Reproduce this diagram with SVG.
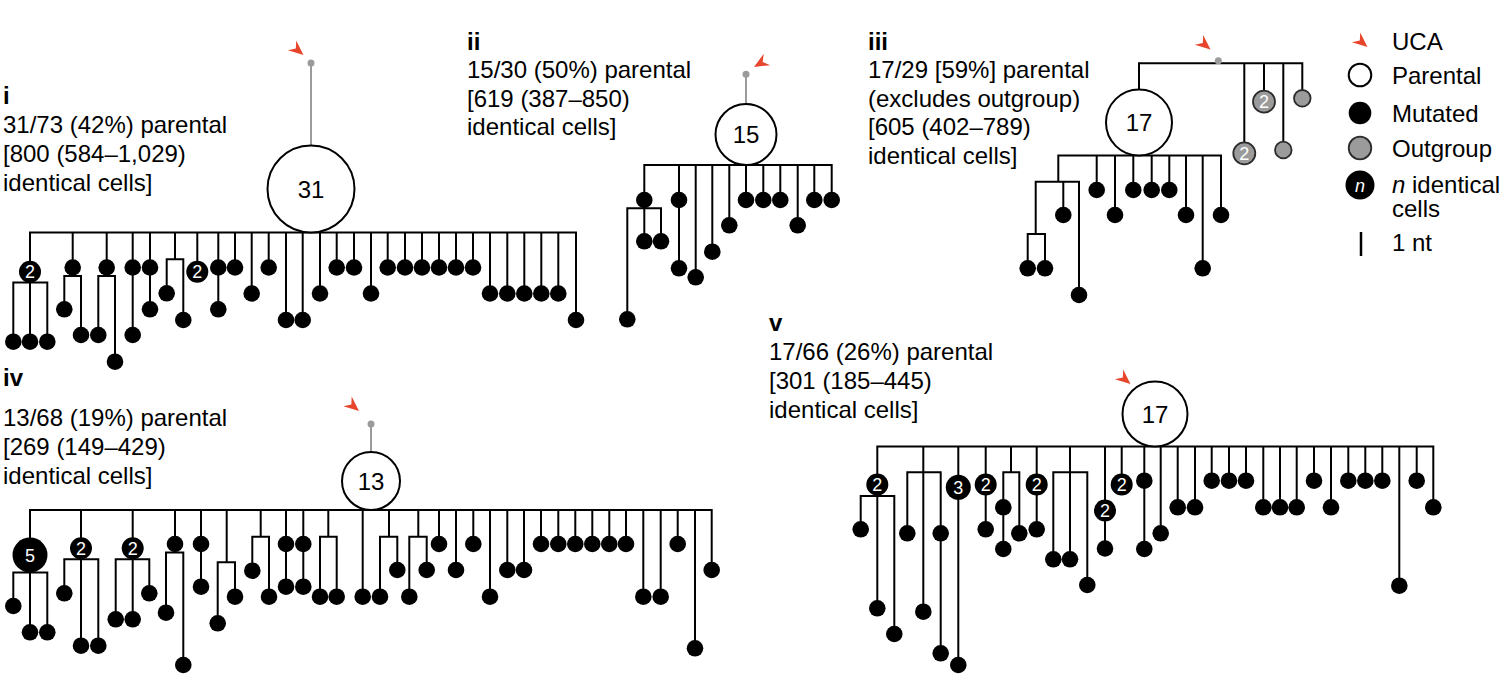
<svg xmlns="http://www.w3.org/2000/svg" width="1504" height="694" viewBox="0 0 1504 694">
<defs>
<style>
.e{fill:none;stroke:#000;stroke-width:2;stroke-linecap:square;stroke-linejoin:miter}
.g{fill:none;stroke:#9b9b9b;stroke-width:2}
.m{fill:#000}
.p{fill:#fff;stroke:#000;stroke-width:2}
.o{fill:#9b9b9b;stroke:#2b2b2b;stroke-width:1.8}
.gd{fill:#9b9b9b}
.u{fill:#e8462c}
.t{font-family:"Liberation Sans",Arial,Helvetica,sans-serif;font-size:24px;fill:#000}
.b{font-weight:bold}
.n{font-family:"Liberation Sans",Arial,Helvetica,sans-serif;font-size:24px;text-anchor:middle;fill:#000}
.w{font-family:"Liberation Sans",Arial,Helvetica,sans-serif;font-size:18px;text-anchor:middle;fill:#fff}
</style>
<path id="uca" d="M0,0 L-15,-6.5 L-10,0 L-15,6.5 Z"/>
</defs>
<rect width="1504" height="694" fill="#fff"/>

<!-- labels -->
<g id="labels">
<text class="t b" x="3" y="104">i</text>
<text class="t" x="3" y="133">31/73 (42%) parental</text>
<text class="t" x="3" y="162">[800 (584–1,029)</text>
<text class="t" x="3" y="191">identical cells]</text>

<text class="t b" x="467" y="49.5">ii</text>
<text class="t" x="467" y="78">15/30 (50%) parental</text>
<text class="t" x="467" y="106.5">[619 (387–850)</text>
<text class="t" x="467" y="135">identical cells]</text>

<text class="t b" x="868" y="49.5">iii</text>
<text class="t" x="868" y="78">17/29 [59%] parental</text>
<text class="t" x="868" y="106.5">(excludes outgroup)</text>
<text class="t" x="868" y="135">[605 (402–789)</text>
<text class="t" x="868" y="163.5">identical cells]</text>

<text class="t b" x="3" y="386">iv</text>
<text class="t" x="3" y="425.5">13/68 (19%) parental</text>
<text class="t" x="3" y="455">[269 (149–429)</text>
<text class="t" x="3" y="484">identical cells]</text>

<text class="t b" x="769" y="331">v</text>
<text class="t" x="769" y="360">17/66 (26%) parental</text>
<text class="t" x="769" y="389">[301 (185–445)</text>
<text class="t" x="769" y="418">identical cells]</text>
</g>

<!-- connectors -->
<g id="connectors">
<g id="edges-i">
<path class="g" d="M311,63 V145.5"/>
<path class="e" d="M30,232.5 H576
M30,232.5 V341.7 M13.3,341.7 V282.5 H47.3 V341.7
M72.7,232.5 V276 M64.3,309.3 V276 H81 V335
M106.7,232.5 V276 M98.3,335 V276 H115 V361.7
M132.7,232.5 V335
M150,232.5 V309.3
M175,232.5 V259.3 M166.7,293.3 V259.3 H183.3 V320
M197.3,232.5 V271.7
M218.3,232.5 V309.3
M235,232.5 V267.5
M251.7,232.5 V293.5
M268.7,232.5 V267.5
M286,232.5 V320
M302.7,232.5 V320
M320,232.5 V293.5
M336.7,232.5 V267.5
M354,232.5 V267.5
M371,232.5 V293.5
M387.7,232.5 V267.5
M405,232.5 V267.5
M422,232.5 V267.5
M439,232.5 V267.5
M456,232.5 V267.5
M473,232.5 V267.5
M490,232.5 V293.5
M507.3,232.5 V293.5
M524.3,232.5 V293.5
M541.3,232.5 V293.5
M558.3,232.5 V293.5
M576,232.5 V320"/>
</g>
<g id="edges-ii">
<path class="g" d="M746,74.3 V104"/>
<path class="e" d="M644.3,165 H831.7
M644.3,165 V241.3 M627.3,319.3 V208.3 H661 V241.3
M679,165 V268.3
M695.7,165 V277.3
M712.3,165 V251.7
M729.3,165 V225.3
M746,165 V200
M763.3,165 V200
M780.3,165 V200
M797.7,165 V225.3
M814.3,165 V200
M831.7,165 V200"/>
</g>
<g id="edges-iii">
<path class="e" d="M1139,89.5 V63.3 H1302.3 V98.3
M1244.3,63.3 V153.3
M1264,63.3 V101.7
M1283.3,63.3 V150
M1058.3,155.5 H1221
M1058.3,155.5 V181.7 M1035.7,234 V181.7 H1079 V295
M1063.3,181.7 V215
M1027.7,268.3 V234 H1045 V268.3
M1096.7,155.5 V190
M1115,155.5 V215
M1133.3,155.5 V190
M1151.7,155.5 V190
M1169.3,155.5 V190
M1186,155.5 V215
M1202.7,155.5 V268.3
M1221,155.5 V215"/>
</g>
<g id="edges-iv">
<path class="g" d="M371,424 V452"/>
<path class="e" d="M30,510 H711.7
M30,510 V632.3 M13.3,606 V572.5 H47.3 V632.3
M81,510 V645.7 M64.3,593.3 V559.3 H98.3 V645.7
M132.7,510 V619.3 M115.7,619.3 V559.3 H149.3 V593.3
M175,510 V552.5 M166,612.7 V552.5 H183.3 V665
M201,510 V586.7
M226.7,510 V562.3 M217.7,623.3 V562.3 H235 V596.7
M260.7,510 V536.7 M252.3,570.7 V536.7 H269 V596.7
M286,510 V586.7
M303.3,510 V586.7
M328.3,510 V536.7 M320,596.7 V536.7 H336.7 V596.7
M362.7,510 V596.7
M389,510 V536.7 M380,596.7 V536.7 H397.3 V570
M418.3,510 V536.7 M409.3,596.7 V536.7 H426.7 V570
M439,510 V544
M456,510 V570
M473.3,510 V544
M490,510 V596.7
M507.3,510 V570
M524,510 V570
M541,510 V544
M558.3,510 V544
M575.3,510 V544
M592.3,510 V544
M609.3,510 V544
M626,510 V544
M643.3,510 V596.7
M660.7,510 V596.7
M677.7,510 V544
M695,510 V648.3
M711.7,510 V570"/>
</g>
<g id="edges-v">
<path class="e" d="M877.3,446.5 H1433.3
M877.3,446.5 V608.3 M860.7,529.3 V496 H894.3 V634
M923.3,446.5 V611.7 M907.3,533.3 V472.3 H940.7 V653.3
M958.3,446.5 V665
M985.7,446.5 V529.3
M1011,446.5 V472.3 M1003.3,549 V472.3 H1019.3 V533.3
M1036.7,446.5 V529.3
M1070,446.5 V559.3 M1053.3,559.3 V472.3 H1087.3 V585
M1105,446.5 V548.5
M1121.7,446.5 V484.5
M1144.3,446.5 V549
M1160.7,446.5 V533.3
M1177.7,446.5 V507.3
M1195,446.5 V507.3
M1211.7,446.5 V480.7
M1229,446.5 V480.7
M1246,446.5 V480.7
M1263.3,446.5 V507.3
M1280,446.5 V507.3
M1296.7,446.5 V507.3
M1314,446.5 V480.7
M1331,446.5 V507.3
M1348.3,446.5 V480.7
M1365.3,446.5 V480.7
M1382.3,446.5 V480.7
M1399.3,446.5 V585.7
M1416.7,446.5 V480.7
M1433.3,446.5 V507.3"/>
</g>
</g>

<!-- tree i nodes -->
<g id="tree-i">
<g id="i-uca"><use href="#uca" class="u" transform="translate(303.5,55) rotate(40)"/><circle class="gd" cx="311" cy="63" r="3.5"/></g>
<g id="i-parental"><circle class="p" cx="311" cy="189" r="43.5"/><text class="n" x="311" y="197.6">31</text></g>
<g id="i-1"><circle class="m" cx="30" cy="271.7" r="11"/><text class="w" x="30" y="278.1">2</text></g>
<g id="i-1a"><circle class="m" cx="13.3" cy="341.7" r="8.3"/></g>
<g id="i-1b"><circle class="m" cx="30" cy="341.7" r="8.3"/></g>
<g id="i-1c"><circle class="m" cx="47.3" cy="341.7" r="8.3"/></g>
<g id="i-2"><circle class="m" cx="72.7" cy="267.5" r="8.3"/></g>
<g id="i-2a"><circle class="m" cx="64.3" cy="309.3" r="8.3"/></g>
<g id="i-2b"><circle class="m" cx="81" cy="335" r="8.3"/></g>
<g id="i-3"><circle class="m" cx="106.7" cy="267.5" r="8.3"/></g>
<g id="i-3a"><circle class="m" cx="98.3" cy="335" r="8.3"/></g>
<g id="i-3b"><circle class="m" cx="115" cy="361.7" r="8.3"/></g>
<g id="i-4"><circle class="m" cx="132.7" cy="267.5" r="8.3"/></g>
<g id="i-4a"><circle class="m" cx="132.7" cy="335" r="8.3"/></g>
<g id="i-5"><circle class="m" cx="150" cy="267.5" r="8.3"/></g>
<g id="i-5a"><circle class="m" cx="150" cy="309.3" r="8.3"/></g>
<g id="i-6a"><circle class="m" cx="166.7" cy="293.3" r="8.3"/></g>
<g id="i-6b"><circle class="m" cx="183.3" cy="320" r="8.3"/></g>
<g id="i-7"><circle class="m" cx="197.3" cy="271.7" r="11"/><text class="w" x="197.3" y="278.1">2</text></g>
<g id="i-8"><circle class="m" cx="218.3" cy="267.5" r="8.3"/></g>
<g id="i-8a"><circle class="m" cx="218.3" cy="309.3" r="8.3"/></g>
<g id="i-9"><circle class="m" cx="235" cy="267.5" r="8.3"/></g>
<g id="i-10"><circle class="m" cx="251.7" cy="293.5" r="8.3"/></g>
<g id="i-11"><circle class="m" cx="268.7" cy="267.5" r="8.3"/></g>
<g id="i-12"><circle class="m" cx="286" cy="320" r="8.3"/></g>
<g id="i-13"><circle class="m" cx="302.7" cy="320" r="8.3"/></g>
<g id="i-14"><circle class="m" cx="320" cy="293.5" r="8.3"/></g>
<g id="i-15"><circle class="m" cx="336.7" cy="267.5" r="8.3"/></g>
<g id="i-16"><circle class="m" cx="354" cy="267.5" r="8.3"/></g>
<g id="i-17"><circle class="m" cx="371" cy="293.5" r="8.3"/></g>
<g id="i-18"><circle class="m" cx="387.7" cy="267.5" r="8.3"/></g>
<g id="i-19"><circle class="m" cx="405" cy="267.5" r="8.3"/></g>
<g id="i-20"><circle class="m" cx="422" cy="267.5" r="8.3"/></g>
<g id="i-21"><circle class="m" cx="439" cy="267.5" r="8.3"/></g>
<g id="i-22"><circle class="m" cx="456" cy="267.5" r="8.3"/></g>
<g id="i-23"><circle class="m" cx="473" cy="267.5" r="8.3"/></g>
<g id="i-24"><circle class="m" cx="490" cy="293.5" r="8.3"/></g>
<g id="i-25"><circle class="m" cx="507.3" cy="293.5" r="8.3"/></g>
<g id="i-26"><circle class="m" cx="524.3" cy="293.5" r="8.3"/></g>
<g id="i-27"><circle class="m" cx="541.3" cy="293.5" r="8.3"/></g>
<g id="i-28"><circle class="m" cx="558.3" cy="293.5" r="8.3"/></g>
<g id="i-29"><circle class="m" cx="576" cy="320" r="8.3"/></g>
</g>

<!-- tree ii nodes -->
<g id="tree-ii">
<g id="ii-uca"><use href="#uca" class="u" transform="translate(754,67) rotate(150)"/><circle class="gd" cx="746" cy="74.3" r="3.5"/></g>
<g id="ii-parental"><circle class="p" cx="746" cy="134.5" r="30.5"/><text class="n" x="746" y="143.1">15</text></g>
<g id="ii-1"><circle class="m" cx="644.3" cy="200" r="8.3"/></g>
<g id="ii-1a"><circle class="m" cx="627.3" cy="319.3" r="8.3"/></g>
<g id="ii-1b"><circle class="m" cx="644.3" cy="241.3" r="8.3"/></g>
<g id="ii-1c"><circle class="m" cx="661" cy="241.3" r="8.3"/></g>
<g id="ii-2"><circle class="m" cx="679" cy="200" r="8.3"/></g>
<g id="ii-2a"><circle class="m" cx="679" cy="268.3" r="8.3"/></g>
<g id="ii-3"><circle class="m" cx="695.7" cy="277.3" r="8.3"/></g>
<g id="ii-4"><circle class="m" cx="712.3" cy="251.7" r="8.3"/></g>
<g id="ii-5"><circle class="m" cx="729.3" cy="225.3" r="8.3"/></g>
<g id="ii-6"><circle class="m" cx="746" cy="200" r="8.3"/></g>
<g id="ii-7"><circle class="m" cx="763.3" cy="200" r="8.3"/></g>
<g id="ii-8"><circle class="m" cx="780.3" cy="200" r="8.3"/></g>
<g id="ii-9"><circle class="m" cx="797.7" cy="225.3" r="8.3"/></g>
<g id="ii-10"><circle class="m" cx="814.3" cy="200" r="8.3"/></g>
<g id="ii-11"><circle class="m" cx="831.7" cy="200" r="8.3"/></g>
</g>

<!-- tree iii nodes -->
<g id="tree-iii">
<g id="iii-uca"><use href="#uca" class="u" transform="translate(1210.5,49.5) rotate(40)"/><circle class="gd" cx="1218.3" cy="60.7" r="3.5"/></g>
<g id="iii-parental"><circle class="p" cx="1139" cy="122.5" r="33"/><text class="n" x="1139" y="131.1">17</text></g>
<g id="iii-o1"><circle class="o" cx="1244.3" cy="153.3" r="11"/><text class="w" x="1244.3" y="159.7">2</text></g>
<g id="iii-o2"><circle class="o" cx="1264" cy="101.7" r="11"/><text class="w" x="1264" y="108.1">2</text></g>
<g id="iii-o3"><circle class="o" cx="1283.3" cy="150" r="8.3"/></g>
<g id="iii-o4"><circle class="o" cx="1302.3" cy="98.3" r="8.3"/></g>
<g id="iii-1a"><circle class="m" cx="1027.7" cy="268.3" r="8.3"/></g>
<g id="iii-1b"><circle class="m" cx="1045" cy="268.3" r="8.3"/></g>
<g id="iii-1c"><circle class="m" cx="1063.3" cy="215" r="8.3"/></g>
<g id="iii-1d"><circle class="m" cx="1079" cy="295" r="8.3"/></g>
<g id="iii-2"><circle class="m" cx="1096.7" cy="190" r="8.3"/></g>
<g id="iii-3"><circle class="m" cx="1115" cy="215" r="8.3"/></g>
<g id="iii-4"><circle class="m" cx="1133.3" cy="190" r="8.3"/></g>
<g id="iii-5"><circle class="m" cx="1151.7" cy="190" r="8.3"/></g>
<g id="iii-6"><circle class="m" cx="1169.3" cy="190" r="8.3"/></g>
<g id="iii-7"><circle class="m" cx="1186" cy="215" r="8.3"/></g>
<g id="iii-8"><circle class="m" cx="1202.7" cy="268.3" r="8.3"/></g>
<g id="iii-9"><circle class="m" cx="1221" cy="215" r="8.3"/></g>
</g>

<!-- tree iv nodes -->
<g id="tree-iv">
<g id="iv-uca"><use href="#uca" class="u" transform="translate(359,411) rotate(40)"/><circle class="gd" cx="371" cy="424" r="3.5"/></g>
<g id="iv-parental"><circle class="p" cx="371" cy="481" r="29"/><text class="n" x="371" y="489.6">13</text></g>
<g id="iv-1"><circle class="m" cx="30" cy="555" r="17.5"/><text class="w" x="30" y="562.3" font-size="20">5</text></g>
<g id="iv-1a"><circle class="m" cx="13.3" cy="606" r="8.3"/></g>
<g id="iv-1b"><circle class="m" cx="30" cy="632.3" r="8.3"/></g>
<g id="iv-1c"><circle class="m" cx="47.3" cy="632.3" r="8.3"/></g>
<g id="iv-2"><circle class="m" cx="81" cy="548.3" r="11"/><text class="w" x="81" y="554.7">2</text></g>
<g id="iv-2a"><circle class="m" cx="64.3" cy="593.3" r="8.3"/></g>
<g id="iv-2b"><circle class="m" cx="81" cy="645.7" r="8.3"/></g>
<g id="iv-2c"><circle class="m" cx="98.3" cy="645.7" r="8.3"/></g>
<g id="iv-3"><circle class="m" cx="132.7" cy="548.3" r="11"/><text class="w" x="132.7" y="554.7">2</text></g>
<g id="iv-3a"><circle class="m" cx="115.7" cy="619.3" r="8.3"/></g>
<g id="iv-3b"><circle class="m" cx="132.7" cy="619.3" r="8.3"/></g>
<g id="iv-3c"><circle class="m" cx="149.3" cy="593.3" r="8.3"/></g>
<g id="iv-4"><circle class="m" cx="175" cy="544" r="8.3"/></g>
<g id="iv-4a"><circle class="m" cx="166" cy="612.7" r="8.3"/></g>
<g id="iv-4b"><circle class="m" cx="183.3" cy="665" r="8.3"/></g>
<g id="iv-5"><circle class="m" cx="201" cy="544" r="8.3"/></g>
<g id="iv-5a"><circle class="m" cx="201" cy="586.7" r="8.3"/></g>
<g id="iv-6a"><circle class="m" cx="217.7" cy="623.3" r="8.3"/></g>
<g id="iv-6b"><circle class="m" cx="235" cy="596.7" r="8.3"/></g>
<g id="iv-7a"><circle class="m" cx="252.3" cy="570.7" r="8.3"/></g>
<g id="iv-7b"><circle class="m" cx="269" cy="596.7" r="8.3"/></g>
<g id="iv-8"><circle class="m" cx="286" cy="544" r="8.3"/></g>
<g id="iv-8a"><circle class="m" cx="286" cy="586.7" r="8.3"/></g>
<g id="iv-9"><circle class="m" cx="303.3" cy="544" r="8.3"/></g>
<g id="iv-9a"><circle class="m" cx="303.3" cy="586.7" r="8.3"/></g>
<g id="iv-10a"><circle class="m" cx="320" cy="596.7" r="8.3"/></g>
<g id="iv-10b"><circle class="m" cx="336.7" cy="596.7" r="8.3"/></g>
<g id="iv-11"><circle class="m" cx="362.7" cy="596.7" r="8.3"/></g>
<g id="iv-12a"><circle class="m" cx="380" cy="596.7" r="8.3"/></g>
<g id="iv-12b"><circle class="m" cx="397.3" cy="570" r="8.3"/></g>
<g id="iv-13a"><circle class="m" cx="409.3" cy="596.7" r="8.3"/></g>
<g id="iv-13b"><circle class="m" cx="426.7" cy="570" r="8.3"/></g>
<g id="iv-14"><circle class="m" cx="439" cy="544" r="8.3"/></g>
<g id="iv-15"><circle class="m" cx="456" cy="570" r="8.3"/></g>
<g id="iv-16"><circle class="m" cx="473.3" cy="544" r="8.3"/></g>
<g id="iv-17"><circle class="m" cx="490" cy="596.7" r="8.3"/></g>
<g id="iv-18"><circle class="m" cx="507.3" cy="570" r="8.3"/></g>
<g id="iv-19"><circle class="m" cx="524" cy="570" r="8.3"/></g>
<g id="iv-20"><circle class="m" cx="541" cy="544" r="8.3"/></g>
<g id="iv-21"><circle class="m" cx="558.3" cy="544" r="8.3"/></g>
<g id="iv-22"><circle class="m" cx="575.3" cy="544" r="8.3"/></g>
<g id="iv-23"><circle class="m" cx="592.3" cy="544" r="8.3"/></g>
<g id="iv-24"><circle class="m" cx="609.3" cy="544" r="8.3"/></g>
<g id="iv-25"><circle class="m" cx="626" cy="544" r="8.3"/></g>
<g id="iv-26"><circle class="m" cx="643.3" cy="596.7" r="8.3"/></g>
<g id="iv-27"><circle class="m" cx="660.7" cy="596.7" r="8.3"/></g>
<g id="iv-28"><circle class="m" cx="677.7" cy="544" r="8.3"/></g>
<g id="iv-29"><circle class="m" cx="695" cy="648.3" r="8.3"/></g>
<g id="iv-30"><circle class="m" cx="711.7" cy="570" r="8.3"/></g>
</g>

<!-- tree v nodes -->
<g id="tree-v">
<g id="v-uca"><use href="#uca" class="u" transform="translate(1130.5,384) rotate(40)"/></g>
<g id="v-parental"><circle class="p" cx="1155" cy="414" r="32.5"/><text class="n" x="1155" y="422.6">17</text></g>
<g id="v-1"><circle class="m" cx="877.3" cy="484.5" r="11"/><text class="w" x="877.3" y="490.9">2</text></g>
<g id="v-1a"><circle class="m" cx="860.7" cy="529.3" r="8.3"/></g>
<g id="v-1b"><circle class="m" cx="877.3" cy="608.3" r="8.3"/></g>
<g id="v-1c"><circle class="m" cx="894.3" cy="634" r="8.3"/></g>
<g id="v-2a"><circle class="m" cx="907.3" cy="533.3" r="8.3"/></g>
<g id="v-2b"><circle class="m" cx="923.3" cy="611.7" r="8.3"/></g>
<g id="v-2c"><circle class="m" cx="940.7" cy="533.3" r="8.3"/></g>
<g id="v-2d"><circle class="m" cx="940.7" cy="653.3" r="8.3"/></g>
<g id="v-3"><circle class="m" cx="958.3" cy="487.3" r="12.5"/><text class="w" x="958.3" y="494.2" font-size="19">3</text></g>
<g id="v-3a"><circle class="m" cx="958.3" cy="665" r="8.3"/></g>
<g id="v-4"><circle class="m" cx="985.7" cy="484.5" r="11"/><text class="w" x="985.7" y="490.9">2</text></g>
<g id="v-4a"><circle class="m" cx="985.7" cy="529.3" r="8.3"/></g>
<g id="v-5a"><circle class="m" cx="1003.3" cy="507.3" r="8.3"/></g>
<g id="v-5b"><circle class="m" cx="1003.3" cy="549" r="8.3"/></g>
<g id="v-5c"><circle class="m" cx="1019.3" cy="533.3" r="8.3"/></g>
<g id="v-6"><circle class="m" cx="1036.7" cy="484.5" r="11"/><text class="w" x="1036.7" y="490.9">2</text></g>
<g id="v-6a"><circle class="m" cx="1036.7" cy="529.3" r="8.3"/></g>
<g id="v-7a"><circle class="m" cx="1053.3" cy="559.3" r="8.3"/></g>
<g id="v-7b"><circle class="m" cx="1070" cy="559.3" r="8.3"/></g>
<g id="v-7c"><circle class="m" cx="1087.3" cy="585" r="8.3"/></g>
<g id="v-8"><circle class="m" cx="1105" cy="510.5" r="11"/><text class="w" x="1105" y="516.9">2</text></g>
<g id="v-8a"><circle class="m" cx="1105" cy="548.5" r="8.3"/></g>
<g id="v-9"><circle class="m" cx="1121.7" cy="484.5" r="11"/><text class="w" x="1121.7" y="490.9">2</text></g>
<g id="v-10"><circle class="m" cx="1144.3" cy="480.7" r="8.3"/></g>
<g id="v-10a"><circle class="m" cx="1144.3" cy="549" r="8.3"/></g>
<g id="v-11"><circle class="m" cx="1160.7" cy="533.3" r="8.3"/></g>
<g id="v-12"><circle class="m" cx="1177.7" cy="507.3" r="8.3"/></g>
<g id="v-13"><circle class="m" cx="1195" cy="507.3" r="8.3"/></g>
<g id="v-14"><circle class="m" cx="1211.7" cy="480.7" r="8.3"/></g>
<g id="v-15"><circle class="m" cx="1229" cy="480.7" r="8.3"/></g>
<g id="v-16"><circle class="m" cx="1246" cy="480.7" r="8.3"/></g>
<g id="v-17"><circle class="m" cx="1263.3" cy="507.3" r="8.3"/></g>
<g id="v-18"><circle class="m" cx="1280" cy="507.3" r="8.3"/></g>
<g id="v-19"><circle class="m" cx="1296.7" cy="507.3" r="8.3"/></g>
<g id="v-20"><circle class="m" cx="1314" cy="480.7" r="8.3"/></g>
<g id="v-21"><circle class="m" cx="1331" cy="507.3" r="8.3"/></g>
<g id="v-22"><circle class="m" cx="1348.3" cy="480.7" r="8.3"/></g>
<g id="v-23"><circle class="m" cx="1365.3" cy="480.7" r="8.3"/></g>
<g id="v-24"><circle class="m" cx="1382.3" cy="480.7" r="8.3"/></g>
<g id="v-25"><circle class="m" cx="1399.3" cy="585.7" r="8.3"/></g>
<g id="v-26"><circle class="m" cx="1416.7" cy="480.7" r="8.3"/></g>
<g id="v-27"><circle class="m" cx="1433.3" cy="507.3" r="8.3"/></g>
</g>

<!-- legend -->
<g id="legend">
<g id="lg-uca"><use href="#uca" class="u" transform="translate(1367.5,47) rotate(40)"/><text class="t" x="1392" y="50">UCA</text></g>
<g id="lg-parental"><circle class="p" cx="1360" cy="75" r="11.3"/><text class="t" x="1392" y="84">Parental</text></g>
<g id="lg-mutated"><circle class="m" cx="1360" cy="113" r="11.3"/><text class="t" x="1392" y="121.5">Mutated</text></g>
<g id="lg-outgroup"><circle class="o" cx="1360" cy="148" r="11.3"/><text class="t" x="1392" y="157">Outgroup</text></g>
<g id="lg-n"><circle class="m" cx="1360" cy="185" r="14.5"/><text class="w" x="1360" y="191.5" font-size="20" font-style="italic">n</text><text class="t" x="1392" y="193"><tspan font-style="italic">n</tspan> identical</text><text class="t" x="1392" y="217">cells</text></g>
<g id="lg-nt"><path class="e" d="M1361,232 V256" style="stroke-linecap:butt;stroke-width:2.5"/><text class="t" x="1392" y="251">1 nt</text></g>
</g>
</svg>
